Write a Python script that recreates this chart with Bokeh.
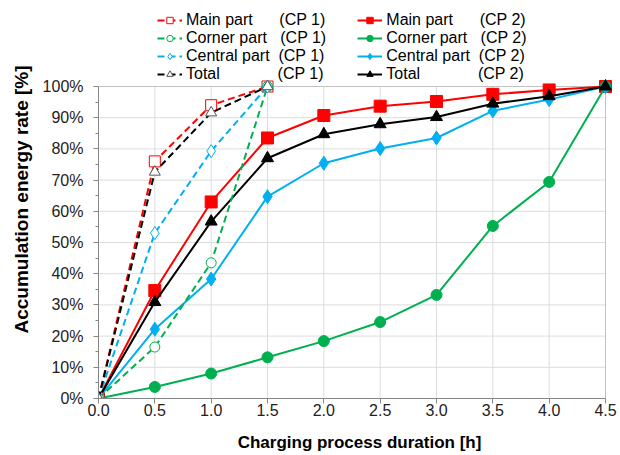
from bokeh.plotting import figure
from bokeh.models import (FixedTicker, Legend, LegendItem, Range1d,
                          NumeralTickFormatter, BoxAnnotation)
from bokeh.embed import file_html
from bokeh.resources import INLINE

# ---- data ----
x_cp1 = [0.0, 0.5, 1.0, 1.5]
x_cp2 = [0.0, 0.5, 1.0, 1.5, 2.0, 2.5, 3.0, 3.5, 4.0, 4.5]

main_cp1 = [0, 76, 94, 100]
corner_cp1 = [0, 16.5, 43.5, 100]
central_cp1 = [0, 53, 79.3, 100]
total_cp1 = [0, 72.6, 91.6, 100]

main_cp2 = [0, 34.6, 63, 83.5, 90.7, 93.7, 95.2, 97.5, 98.9, 100]
corner_cp2 = [0, 3.7, 8, 13.2, 18.4, 24.5, 33.2, 55.3, 69.4, 100]
central_cp2 = [0, 22.2, 38.3, 64.7, 75.4, 80.1, 83.5, 92.2, 95.8, 100]
total_cp2 = [0, 30.9, 56.7, 77, 84.7, 87.9, 90.2, 94.5, 96.9, 100]

series_names = ["Main part", "Corner part", "Central part", "Total"]
case_names = ["(CP 1)", "(CP 2)"]
x_ticks = [0.0, 0.5, 1.0, 1.5, 2.0, 2.5, 3.0, 3.5, 4.0, 4.5]
y_ticks = [0, 10, 20, 30, 40, 50, 60, 70, 80, 90, 100]
y_minor = [5, 15, 25, 35, 45, 55, 65, 75, 85, 95]

RED, GREEN, BLUE, BLACK = "#FF0000", "#00B050", "#00B0F0", "#000000"
AXIS_GREY = "#868686"
GRID_GREY = "#dcdcdc"
FONT = "Liberation Sans"
NB = "\u00a0"
# no-break spaces that align the "(CP n)" column in the legend
pad_mid = {"Main part": 6, "Corner part": 3, "Central part": 2, "Total": 13}
pad_end = 7

# ---- layout (pixels) ----
FRAME_W, FRAME_H = 522, 398
TOP_GAP = 86          # space above the 100 % line, used by the legend
RIGHT_GAP = 15        # space right of x = 4.5
x_lo, x_hi = x_ticks[0], x_ticks[-1]
y_lo, y_hi = y_ticks[0], y_ticks[-1]
x_end = x_lo + (x_hi - x_lo) * FRAME_W / (FRAME_W - RIGHT_GAP)
y_end = y_lo + (y_hi - y_lo) * FRAME_H / (FRAME_H - TOP_GAP)

p = figure(frame_width=FRAME_W, frame_height=FRAME_H,
           output_backend="svg", toolbar_location=None,
           x_range=Range1d(x_lo, x_end), y_range=Range1d(y_lo, y_end),
           min_border_left=98, min_border_right=0, min_border_top=0,
           min_border_bottom=0)

p.outline_line_color = None
p.background_fill_color = "white"
p.xgrid.visible = False
p.ygrid.visible = False

# grid lines limited to the 0..4.5 x 0..100 % box
p.segment(x0=x_ticks, y0=[y_lo] * len(x_ticks), x1=x_ticks, y1=[y_hi] * len(x_ticks),
          line_color=GRID_GREY, line_width=1, level="underlay")
p.segment(x0=[x_lo] * len(y_ticks), y0=y_ticks, x1=[x_hi] * len(y_ticks), y1=y_ticks,
          line_color=GRID_GREY, line_width=1, level="underlay")
p.add_layout(BoxAnnotation(left=x_lo, right=x_hi, bottom=y_lo, top=y_hi,
                           fill_alpha=0, line_color=AXIS_GREY, line_width=1,
                           level="underlay"))

# axes
p.xaxis.ticker = FixedTicker(ticks=x_ticks)
p.xaxis.formatter = NumeralTickFormatter(format="0.0")
p.yaxis.ticker = FixedTicker(ticks=y_ticks, minor_ticks=y_minor)
p.yaxis.major_label_overrides = {t: f"{t}%" for t in y_ticks}
p.xaxis.bounds = (x_lo, x_hi)
p.yaxis.bounds = (y_lo, y_hi)
for ax in (p.xaxis[0], p.yaxis[0]):
    ax.axis_line_color = AXIS_GREY
    ax.major_tick_line_color = AXIS_GREY
    ax.minor_tick_line_color = AXIS_GREY
    ax.major_tick_in = 0
    ax.major_tick_out = 5
    ax.minor_tick_in = 0
    ax.minor_tick_out = 3
    ax.major_label_text_font = FONT
    ax.major_label_text_font_size = "16px"
    ax.major_label_text_color = "#222222"
    ax.axis_label_text_font = FONT
    ax.axis_label_text_font_style = "bold"
    ax.axis_label_text_color = "black"
p.xaxis.minor_tick_line_color = None
p.xaxis.axis_label = "Charging process duration [h]"
p.xaxis.axis_label_text_font_size = "17px"
p.xaxis.axis_label_standoff = 14
p.xaxis.major_label_standoff = 0
p.yaxis.axis_label = "Accumulation energy rate [%]"
p.yaxis.axis_label_text_font_size = "19px"
p.yaxis.axis_label_standoff = 8
p.yaxis.major_label_standoff = 10

colors = [RED, GREEN, BLUE, BLACK]
cp1_vals = [main_cp1, corner_cp1, central_cp1, total_cp1]
cp2_vals = [main_cp2, corner_cp2, central_cp2, total_cp2]
markers = ["square", "circle", "diamond", "triangle"]
cp1_sizes = [11, 10, 13, 11]
cp2_sizes = [12, 11, 14, 12]

items1, items2 = [], []
for name, c, ys, m, s in zip(series_names, colors, cp2_vals, markers, cp2_sizes):
    l = p.line(x_cp2, ys, line_color=c, line_width=2)
    sc = p.scatter(x_cp2, ys, marker=m, size=s, fill_color=c, line_color=c)
    lab = name + NB * pad_mid[name] + case_names[1]
    items2.append(LegendItem(label=lab, renderers=[l, sc]))
for name, c, ys, m, s in zip(series_names, colors, cp1_vals, markers, cp1_sizes):
    l = p.line(x_cp1, ys, line_color=c, line_width=2, line_dash="7 4")
    sc = p.scatter(x_cp1, ys, marker=m, size=s, fill_color="white",
                   line_color=("#555555" if c == BLACK else c), line_width=1)
    lab = name + NB * pad_mid[name] + case_names[0] + NB * pad_end
    items1.append(LegendItem(label=lab, renderers=[l, sc]))

lg = Legend(items=items1 + items2, location=(59, FRAME_H - 13 - 70),
            orientation="vertical", nrows=4,
            border_line_color=None, background_fill_alpha=0,
            padding=0, margin=0, spacing=-2,
            glyph_width=25, glyph_height=16, label_height=16,
            label_standoff=4,
            label_text_font=FONT, label_text_font_size="16px",
            label_text_color="black")
p.add_layout(lg)

open("out.html", "w").write(file_html(p, INLINE))
